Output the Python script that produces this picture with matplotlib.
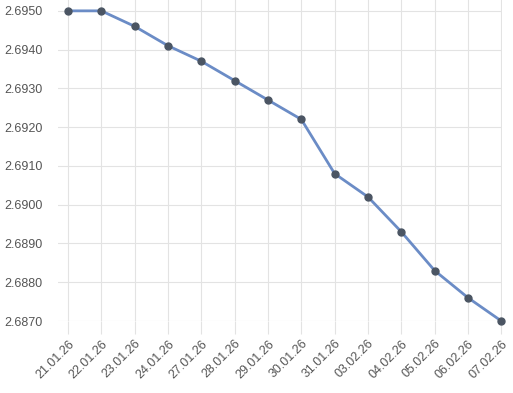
import matplotlib
matplotlib.use("Agg")
import matplotlib.pyplot as plt

# dates and rates
dates = ['21.01.26', '22.01.26', '23.01.26', '24.01.26', '27.01.26', '28.01.26',
         '29.01.26', '30.01.26', '31.01.26', '03.02.26', '04.02.26', '05.02.26',
         '06.02.26', '07.02.26']
rates = [2.6950, 2.6950, 2.6946, 2.6941, 2.6937, 2.6932, 2.6927, 2.6922,
         2.6908, 2.6902, 2.6893, 2.6883, 2.6876, 2.6870]
yticks = [2.6870, 2.6880, 2.6890, 2.6900, 2.6910, 2.6920, 2.6930, 2.6940, 2.6950]

plt.rcParams['font.family'] = ['Liberation Sans', 'DejaVu Sans']

fig = plt.figure(figsize=(5.13, 3.93), dpi=100)
ax = fig.add_axes([58 / 513, 72 / 393, 444 / 513, 321 / 393])

x = list(range(len(dates)))
ax.plot(x, rates, color='#6b8cc6', lw=2.0, zorder=3, clip_on=False,
        marker='o', markersize=5, markerfacecolor='#4b5563',
        markeredgecolor='#4b5563')

ax.set_xlim(-0.3, len(dates) - 1 + 0.02)
ax.set_ylim(2.6870, 2.69528)
ax.set_yticks(yticks)
ax.set_yticklabels(['%.4f' % v for v in yticks])
ax.set_xticks(x)
ax.set_xticklabels(dates, rotation=45, ha='right', va='top',
                   rotation_mode='anchor')

ax.grid(True, color='#e3e3e3', lw=0.8)
ax.set_axisbelow(True)
for s in ax.spines.values():
    s.set_visible(False)
ax.tick_params(axis='x', length=9, color='#e3e3e3', width=0.8,
               labelsize=9, labelcolor='#555555', pad=3)
ax.tick_params(axis='y', length=0, labelsize=9, labelcolor='#555555', pad=11)

fig.savefig('out.png', dpi=100)
